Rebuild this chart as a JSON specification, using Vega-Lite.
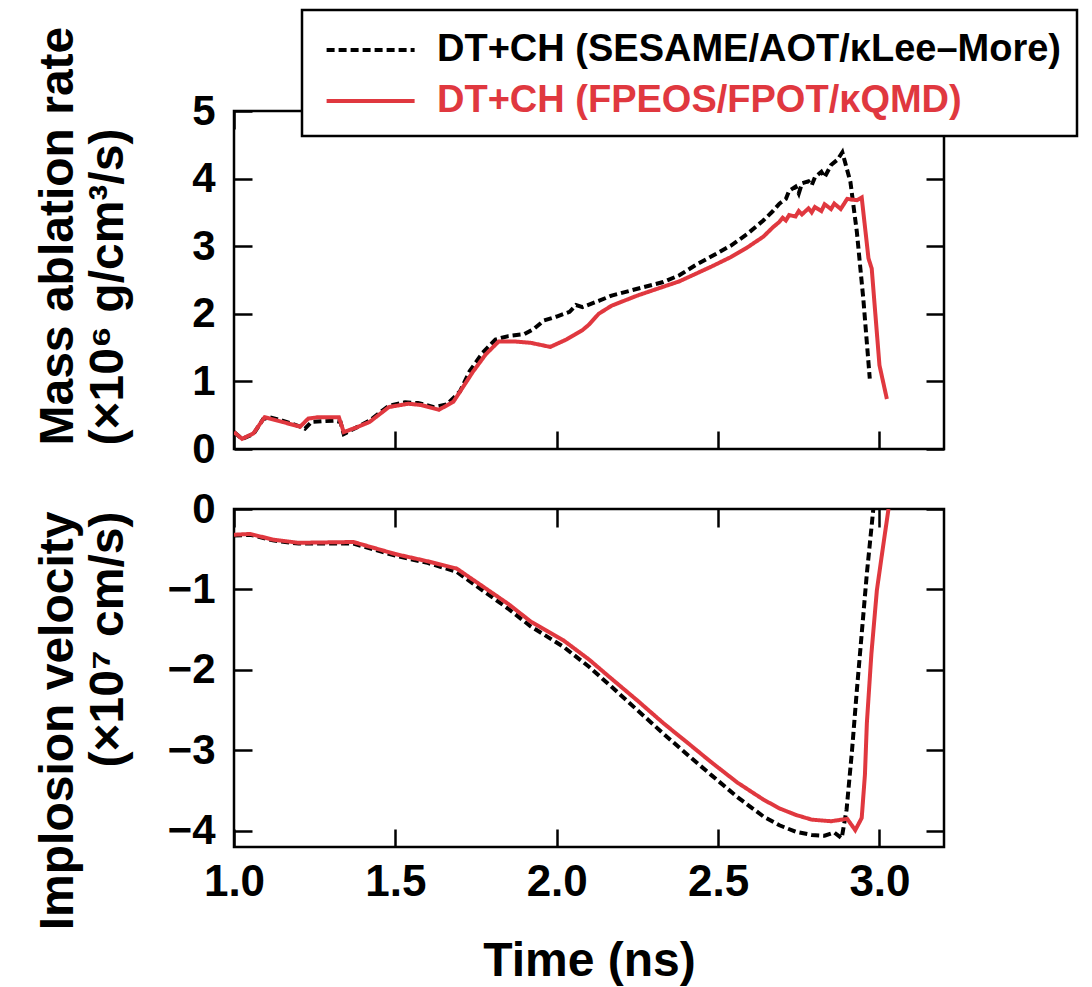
{
  "$schema": "https://vega.github.io/schema/vega-lite/v6.json",
  "padding": {"left": 32, "top": 8, "right": 5, "bottom": 5},
  "config": {
    "font": "Liberation Sans, Arial, sans-serif",
    "view": {"stroke": "black", "strokeWidth": 2.5},
    "axis": {
      "domain": false, "grid": false, "tickColor": "black", "tickWidth": 2.5, "tickSize": -18,
      "labelFontWeight": "bold", "labelFontSize": 42, "labelColor": "black",
      "titleFontWeight": "bold", "titleFontSize": 48, "titleColor": "black",
      "minExtent": 0, "labelFlush": false, "labelOverlap": false, "labelBound": false
    }
  },
  "datasets": {
    "abl": [
      {"s": "S", "t": 1.0, "v": 0.25}, {"s": "S", "t": 1.025, "v": 0.15}, {"s": "S", "t": 1.06, "v": 0.22}, {"s": "S", "t": 1.09, "v": 0.44},
      {"s": "S", "t": 1.11, "v": 0.47}, {"s": "S", "t": 1.15, "v": 0.42}, {"s": "S", "t": 1.2, "v": 0.34}, {"s": "S", "t": 1.22, "v": 0.3},
      {"s": "S", "t": 1.24, "v": 0.4}, {"s": "S", "t": 1.31, "v": 0.42}, {"s": "S", "t": 1.33, "v": 0.4}, {"s": "S", "t": 1.34, "v": 0.22},
      {"s": "S", "t": 1.38, "v": 0.32}, {"s": "S", "t": 1.42, "v": 0.42}, {"s": "S", "t": 1.48, "v": 0.64}, {"s": "S", "t": 1.53, "v": 0.69},
      {"s": "S", "t": 1.57, "v": 0.68}, {"s": "S", "t": 1.62, "v": 0.62}, {"s": "S", "t": 1.66, "v": 0.66}, {"s": "S", "t": 1.7, "v": 0.85},
      {"s": "S", "t": 1.73, "v": 1.15}, {"s": "S", "t": 1.77, "v": 1.42}, {"s": "S", "t": 1.81, "v": 1.62}, {"s": "S", "t": 1.85, "v": 1.67},
      {"s": "S", "t": 1.9, "v": 1.7}, {"s": "S", "t": 1.93, "v": 1.78}, {"s": "S", "t": 1.96, "v": 1.9}, {"s": "S", "t": 2.0, "v": 1.96},
      {"s": "S", "t": 2.04, "v": 2.03}, {"s": "S", "t": 2.06, "v": 2.13}, {"s": "S", "t": 2.08, "v": 2.1}, {"s": "S", "t": 2.13, "v": 2.19},
      {"s": "S", "t": 2.17, "v": 2.27}, {"s": "S", "t": 2.25, "v": 2.37}, {"s": "S", "t": 2.33, "v": 2.47}, {"s": "S", "t": 2.38, "v": 2.57},
      {"s": "S", "t": 2.43, "v": 2.72}, {"s": "S", "t": 2.48, "v": 2.85}, {"s": "S", "t": 2.54, "v": 3.01}, {"s": "S", "t": 2.59, "v": 3.18},
      {"s": "S", "t": 2.64, "v": 3.38}, {"s": "S", "t": 2.67, "v": 3.52}, {"s": "S", "t": 2.69, "v": 3.63}, {"s": "S", "t": 2.71, "v": 3.7},
      {"s": "S", "t": 2.72, "v": 3.82}, {"s": "S", "t": 2.74, "v": 3.88}, {"s": "S", "t": 2.75, "v": 3.78}, {"s": "S", "t": 2.76, "v": 3.93},
      {"s": "S", "t": 2.78, "v": 3.96}, {"s": "S", "t": 2.79, "v": 3.9}, {"s": "S", "t": 2.8, "v": 4.02}, {"s": "S", "t": 2.82, "v": 4.1},
      {"s": "S", "t": 2.83, "v": 4.02}, {"s": "S", "t": 2.85, "v": 4.2}, {"s": "S", "t": 2.87, "v": 4.28}, {"s": "S", "t": 2.885, "v": 4.39},
      {"s": "S", "t": 2.91, "v": 3.95}, {"s": "S", "t": 2.93, "v": 3.21}, {"s": "S", "t": 2.95, "v": 2.22}, {"s": "S", "t": 2.97, "v": 1.04},
      {"s": "F", "t": 1.0, "v": 0.25}, {"s": "F", "t": 1.025, "v": 0.15}, {"s": "F", "t": 1.06, "v": 0.23}, {"s": "F", "t": 1.095, "v": 0.47},
      {"s": "F", "t": 1.15, "v": 0.4}, {"s": "F", "t": 1.205, "v": 0.33}, {"s": "F", "t": 1.23, "v": 0.45}, {"s": "F", "t": 1.26, "v": 0.47},
      {"s": "F", "t": 1.325, "v": 0.47}, {"s": "F", "t": 1.34, "v": 0.25}, {"s": "F", "t": 1.38, "v": 0.32}, {"s": "F", "t": 1.42, "v": 0.4},
      {"s": "F", "t": 1.48, "v": 0.62}, {"s": "F", "t": 1.54, "v": 0.67}, {"s": "F", "t": 1.58, "v": 0.65}, {"s": "F", "t": 1.635, "v": 0.58},
      {"s": "F", "t": 1.68, "v": 0.7}, {"s": "F", "t": 1.74, "v": 1.14}, {"s": "F", "t": 1.78, "v": 1.4}, {"s": "F", "t": 1.82, "v": 1.59},
      {"s": "F", "t": 1.87, "v": 1.59}, {"s": "F", "t": 1.92, "v": 1.57}, {"s": "F", "t": 1.98, "v": 1.51}, {"s": "F", "t": 2.03, "v": 1.62},
      {"s": "F", "t": 2.08, "v": 1.76}, {"s": "F", "t": 2.1, "v": 1.84}, {"s": "F", "t": 2.13, "v": 2.0}, {"s": "F", "t": 2.17, "v": 2.12},
      {"s": "F", "t": 2.25, "v": 2.27}, {"s": "F", "t": 2.33, "v": 2.4}, {"s": "F", "t": 2.38, "v": 2.48}, {"s": "F", "t": 2.43, "v": 2.59},
      {"s": "F", "t": 2.48, "v": 2.7}, {"s": "F", "t": 2.54, "v": 2.84}, {"s": "F", "t": 2.59, "v": 2.98}, {"s": "F", "t": 2.64, "v": 3.14},
      {"s": "F", "t": 2.67, "v": 3.28}, {"s": "F", "t": 2.69, "v": 3.36}, {"s": "F", "t": 2.7, "v": 3.42}, {"s": "F", "t": 2.71, "v": 3.38},
      {"s": "F", "t": 2.72, "v": 3.46}, {"s": "F", "t": 2.74, "v": 3.44}, {"s": "F", "t": 2.75, "v": 3.52}, {"s": "F", "t": 2.76, "v": 3.47},
      {"s": "F", "t": 2.78, "v": 3.56}, {"s": "F", "t": 2.79, "v": 3.5}, {"s": "F", "t": 2.8, "v": 3.58}, {"s": "F", "t": 2.82, "v": 3.52},
      {"s": "F", "t": 2.83, "v": 3.62}, {"s": "F", "t": 2.85, "v": 3.55}, {"s": "F", "t": 2.86, "v": 3.63}, {"s": "F", "t": 2.88, "v": 3.55},
      {"s": "F", "t": 2.9, "v": 3.7}, {"s": "F", "t": 2.93, "v": 3.68}, {"s": "F", "t": 2.945, "v": 3.72}, {"s": "F", "t": 2.966, "v": 2.82},
      {"s": "F", "t": 2.976, "v": 2.67}, {"s": "F", "t": 3.0, "v": 1.24}, {"s": "F", "t": 3.023, "v": 0.74}
    ],
    "vel": [
      {"s": "S", "t": 1.0, "v": -0.33}, {"s": "S", "t": 1.05, "v": -0.32}, {"s": "S", "t": 1.12, "v": -0.39}, {"s": "S", "t": 1.2, "v": -0.43},
      {"s": "S", "t": 1.37, "v": -0.43}, {"s": "S", "t": 1.5, "v": -0.58}, {"s": "S", "t": 1.6, "v": -0.67}, {"s": "S", "t": 1.69, "v": -0.78},
      {"s": "S", "t": 1.77, "v": -1.01}, {"s": "S", "t": 1.85, "v": -1.24}, {"s": "S", "t": 1.92, "v": -1.46}, {"s": "S", "t": 2.02, "v": -1.71},
      {"s": "S", "t": 2.1, "v": -1.96}, {"s": "S", "t": 2.17, "v": -2.21}, {"s": "S", "t": 2.25, "v": -2.5}, {"s": "S", "t": 2.33, "v": -2.79},
      {"s": "S", "t": 2.41, "v": -3.07}, {"s": "S", "t": 2.48, "v": -3.31}, {"s": "S", "t": 2.56, "v": -3.58}, {"s": "S", "t": 2.64, "v": -3.82},
      {"s": "S", "t": 2.69, "v": -3.93}, {"s": "S", "t": 2.74, "v": -4.01}, {"s": "S", "t": 2.79, "v": -4.05}, {"s": "S", "t": 2.83, "v": -4.06},
      {"s": "S", "t": 2.86, "v": -4.02}, {"s": "S", "t": 2.883, "v": -4.09}, {"s": "S", "t": 2.898, "v": -3.74}, {"s": "S", "t": 2.915, "v": -3.0},
      {"s": "S", "t": 2.93, "v": -2.25}, {"s": "S", "t": 2.945, "v": -1.55}, {"s": "S", "t": 2.961, "v": -0.8}, {"s": "S", "t": 2.981, "v": 0.0},
      {"s": "F", "t": 1.0, "v": -0.32}, {"s": "F", "t": 1.05, "v": -0.31}, {"s": "F", "t": 1.12, "v": -0.38}, {"s": "F", "t": 1.2, "v": -0.42},
      {"s": "F", "t": 1.37, "v": -0.41}, {"s": "F", "t": 1.5, "v": -0.56}, {"s": "F", "t": 1.6, "v": -0.65}, {"s": "F", "t": 1.69, "v": -0.74},
      {"s": "F", "t": 1.77, "v": -0.96}, {"s": "F", "t": 1.85, "v": -1.18}, {"s": "F", "t": 1.92, "v": -1.4}, {"s": "F", "t": 2.02, "v": -1.63},
      {"s": "F", "t": 2.1, "v": -1.87}, {"s": "F", "t": 2.17, "v": -2.11}, {"s": "F", "t": 2.25, "v": -2.38}, {"s": "F", "t": 2.33, "v": -2.66},
      {"s": "F", "t": 2.41, "v": -2.92}, {"s": "F", "t": 2.48, "v": -3.15}, {"s": "F", "t": 2.56, "v": -3.4}, {"s": "F", "t": 2.64, "v": -3.61},
      {"s": "F", "t": 2.69, "v": -3.72}, {"s": "F", "t": 2.74, "v": -3.8}, {"s": "F", "t": 2.79, "v": -3.86}, {"s": "F", "t": 2.85, "v": -3.88},
      {"s": "F", "t": 2.9, "v": -3.85}, {"s": "F", "t": 2.925, "v": -3.99}, {"s": "F", "t": 2.945, "v": -3.84}, {"s": "F", "t": 2.955, "v": -3.3},
      {"s": "F", "t": 2.961, "v": -2.66}, {"s": "F", "t": 2.975, "v": -1.8}, {"s": "F", "t": 2.992, "v": -1.01}, {"s": "F", "t": 3.01, "v": -0.5},
      {"s": "F", "t": 3.028, "v": 0.0}
    ]
  },
  "spacing": 14,
  "vconcat": [
    {
      "width": 710, "height": 338,
      "data": {"name": "abl"},
      "layer": [
        {
          "mark": {"type": "line", "strokeWidth": 4, "strokeCap": "butt", "clip": true},
          "encoding": {
            "x": {"field": "t", "type": "quantitative", "scale": {"domain": [1, 3.2], "nice": false, "zero": false},
                  "axis": {"orient": "bottom", "labels": false, "title": null, "values": [1, 1.5, 2, 2.5, 3]}},
            "y": {"field": "v", "type": "quantitative", "scale": {"domain": [0, 5], "nice": false},
                  "axis": {"orient": "left", "values": [0, 1, 2, 3, 4, 5], "labelPadding": 37,
                           "title": ["Mass ablation rate", "(×10⁶ g/cm³/s)"], "titleAnchor": "start", "titleAlign": "left",
                           "titleX": -152, "titleY": 334, "titleBaseline": "bottom", "titleLineHeight": 50, "titleAngle": -90}},
            "color": {"field": "s", "type": "nominal", "scale": {"domain": ["S", "F"], "range": ["black", "#e0383f"]},
                      "legend": {"title": null, "orient": "none", "legendX": 68, "legendY": -101,
                                 "labelExpr": "datum.value == 'S' ? 'DT+CH (SESAME/AOT/κLee–More)' : 'DT+CH (FPEOS/FPOT/κQMD)'",
                                 "labelFontSize": 38, "labelFontWeight": "bold", "labelLimit": 0,
                                 "symbolType": "M-0.7,0H3.3", "symbolSize": 1936, "symbolStrokeWidth": 4,
                                 "labelOffset": 71, "rowPadding": 8, "padding": 16,
                                 "fillColor": "white", "strokeColor": "black",
                                 "encode": {"legend": {"update": {"strokeWidth": {"value": 2.5}}},
                                            "labels": {"update": {"fill": {"signal": "datum.value == 'S' ? 'black' : '#e0383f'"}}}}}},
            "strokeDash": {"field": "s", "type": "nominal", "scale": {"domain": ["S", "F"], "range": [[8, 4], [1, 0]]}}
          }
        },
        {
          "mark": {"type": "point", "opacity": 0},
          "encoding": {
            "x": {"field": "t", "type": "quantitative", "axis": {"orient": "top", "labels": false, "title": null, "values": [1, 1.5, 2, 2.5, 3]}},
            "y": {"field": "v", "type": "quantitative", "axis": {"orient": "right", "labels": false, "title": null, "values": [0, 1, 2, 3, 4, 5]}}
          }
        }
      ],
      "resolve": {"axis": {"x": "independent", "y": "independent"}}
    },
    {
      "width": 710, "height": 338,
      "data": {"name": "vel"},
      "layer": [
        {
          "mark": {"type": "line", "strokeWidth": 4, "strokeCap": "butt", "clip": true},
          "encoding": {
            "x": {"field": "t", "type": "quantitative", "scale": {"domain": [1, 3.2], "nice": false, "zero": false},
                  "axis": {"orient": "bottom", "values": [1, 1.5, 2, 2.5, 3], "format": ".1f", "labelFontSize": 44, "labelPadding": 31,
                           "title": "Time (ns)", "titleY": 90, "titleBaseline": "top"}},
            "y": {"field": "v", "type": "quantitative", "scale": {"domain": [-4.2, 0], "nice": false, "zero": false},
                  "axis": {"orient": "left", "values": [0, -1, -2, -3, -4], "labelPadding": 37,
                           "title": ["Implosion velocity", "(×10⁷ cm/s)"], "titleAnchor": "end", "titleAlign": "right",
                           "titleX": -152, "titleY": 2, "titleBaseline": "bottom", "titleLineHeight": 50, "titleAngle": -90}},
            "color": {"field": "s", "type": "nominal", "scale": {"domain": ["S", "F"], "range": ["black", "#e0383f"]}},
            "strokeDash": {"field": "s", "type": "nominal", "scale": {"domain": ["S", "F"], "range": [[8, 4], [1, 0]]}}
          }
        },
        {
          "mark": {"type": "point", "opacity": 0},
          "encoding": {
            "x": {"field": "t", "type": "quantitative", "axis": {"orient": "top", "labels": false, "title": null, "values": [1, 1.5, 2, 2.5, 3]}},
            "y": {"field": "v", "type": "quantitative", "axis": {"orient": "right", "labels": false, "title": null, "values": [0, -1, -2, -3, -4]}}
          }
        }
      ],
      "resolve": {"axis": {"x": "independent", "y": "independent"}}
    }
  ]
}
